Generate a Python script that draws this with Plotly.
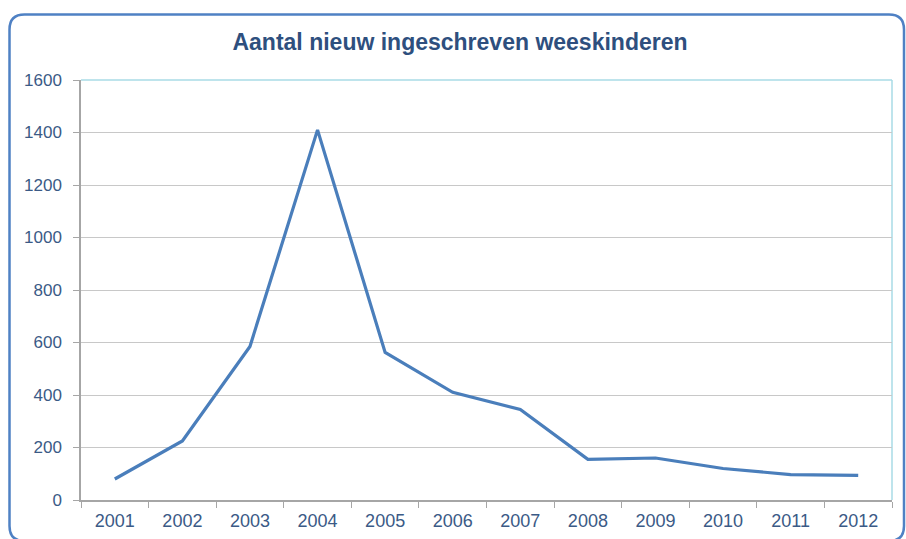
import plotly.graph_objects as go

years = ["2001", "2002", "2003", "2004", "2005", "2006", "2007", "2008", "2009", "2010", "2011", "2012"]
values = [80, 225, 585, 1410, 562, 410, 345, 155, 160, 120, 97, 94]
y_ticks = [0, 200, 400, 600, 800, 1000, 1200, 1400, 1600]

W, H = 906, 539
L, R, T, B = 81, 892, 80, 500

def px(x):
    return (x - L) / (R - L)

def py(y):
    return (B - y) / (B - T)

fig = go.Figure()
fig.add_trace(go.Scatter(
    x=years, y=values, mode="lines",
    line=dict(color="#4a7ebb", width=3.2),
    hoverinfo="x+y",
))

# outer rounded border (partly cropped at the bottom)
x0, x1, y0, y1, r = 9.5, 904, 14.5, 541, 15
path = (f"M {px(x0 + r)},{py(y1)} Q {px(x0)},{py(y1)} {px(x0)},{py(y1 - r)} "
        f"L {px(x0)},{py(y0 + r)} "
        f"Q {px(x0)},{py(y0)} {px(x0 + r)},{py(y0)} "
        f"L {px(x1 - r)},{py(y0)} Q {px(x1)},{py(y0)} {px(x1)},{py(y0 + r)} "
        f"L {px(x1)},{py(y1 - r)} Q {px(x1)},{py(y1)} {px(x1 - r)},{py(y1)} Z")

fig.update_layout(
    width=W, height=H,
    margin=dict(l=L, r=W - R, t=T, b=H - B),
    paper_bgcolor="white", plot_bgcolor="white",
    showlegend=False,
    font=dict(family="Liberation Sans, Arial, sans-serif", color="#3b5a86"),
    title=dict(
        text="<b>Aantal nieuw ingeschreven weeskinderen</b>",
        font=dict(size=23, color="#2e4f7e", family="Liberation Sans, Arial, sans-serif"),
        x=460 / W, xanchor="center", xref="container",
        y=1 - 42 / H, yanchor="middle", yref="container",
    ),
    xaxis=dict(
        type="category", tickson="boundaries",
        ticks="outside", ticklen=6, tickcolor="#a6a6a6",
        showline=True, linecolor="#a6a6a6", linewidth=1.5,
        showgrid=False, tickfont=dict(size=18, color="#3b5a86"),
        range=[-0.5, 11.5], fixedrange=True, ticklabelstandoff=4,
        automargin=False,
    ),
    yaxis=dict(
        range=[0, 1600], tickvals=y_ticks,
        ticks="outside", ticklen=6, tickcolor="#a6a6a6",
        showline=True, linecolor="#a6a6a6", linewidth=1.5,
        gridcolor="#c8c8c8", gridwidth=1.2, zeroline=False,
        tickfont=dict(size=17, color="#3b5a86"), ticklabelstandoff=8,
        automargin=False,
    ),
    shapes=[
        dict(type="line", xref="paper", yref="paper", x0=0, x1=1, y0=1, y1=1,
             line=dict(color="#a9dbe6", width=1.5), layer="below"),
        dict(type="line", xref="paper", yref="paper", x0=1, x1=1, y0=0, y1=1,
             line=dict(color="#a9dbe6", width=1.5), layer="below"),
        dict(type="path", xref="paper", yref="paper", path=path,
             line=dict(color="#4f81c4", width=2.5), layer="above"),
    ],
)

fig.write_html("out.html", config={"displayModeBar": False},
               post_script="document.body.style.margin='0';")
